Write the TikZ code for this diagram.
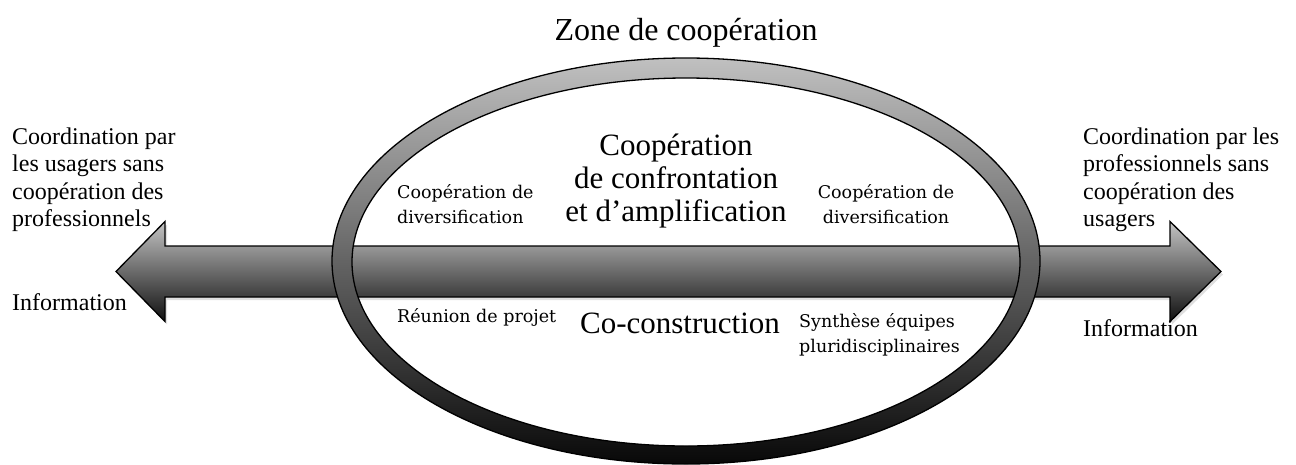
\documentclass[tikz,border=0pt]{standalone}
\usepackage{fontspec}
\setmainfont{Liberation Serif}
\newfontfamily\cambfont{DejaVu Serif}
\usetikzlibrary{shadows}
\definecolor{arrtop}{RGB}{196,196,196}
\definecolor{arrmid}{RGB}{128,128,128}
\definecolor{arrbot}{RGB}{16,16,16}
\definecolor{ringtop}{RGB}{192,192,192}
\definecolor{ringmid}{RGB}{140,140,140}
\definecolor{ringbot}{RGB}{8,8,8}
\begin{document}
\begin{tikzpicture}[x=1pt,y=-1pt,
  side/.style={font=\fontsize{24}{28}\selectfont, inner sep=0pt, anchor=base west},
  titletext/.style={font=\fontsize{32}{38}\selectfont, inner sep=0pt, anchor=base},
  big/.style={font=\fontsize{31}{36}\selectfont, inner sep=0pt, anchor=base},
  small/.style={font=\cambfont\fontsize{17.5}{21}\selectfont, inner sep=0pt, anchor=base west},
  smallc/.style={small, anchor=base},
  outline/.style={draw=black, line width=1.3pt, line join=miter},
]
\useasboundingbox (0,0) rectangle (1296,464);
% double arrow
\coordinate (ltip) at (116,271.5);
\coordinate (rtip) at (1221,271.5);
\shade[outline, top color=arrtop, middle color=arrmid, bottom color=arrbot,
  drop shadow={opacity=0.25, shadow xshift=2pt, shadow yshift=-3pt}]
  (ltip) -- (165,221.5) -- (165,246) -- (1170,246) -- (1170,221.5) -- (rtip)
  -- (1170,321.5) -- (1170,297) -- (165,297) -- (165,321.5) -- cycle;
% ring
\path[even odd rule, top color=ringtop, middle color=ringmid, bottom color=ringbot]
  (686,261) ellipse [x radius=354, y radius=203]
  (686,262) ellipse [x radius=334, y radius=184];
\draw[outline] (686,261) ellipse [x radius=354, y radius=203];
\draw[outline] (686,262) ellipse [x radius=334, y radius=184];
% title
\node[titletext] (title) at (686,40) {Zone de coopération};
% left texts
\node[side] (l1) at (12,144) {Coordination par};
\node[side] (l2) at (12,171.5) {les usagers sans};
\node[side] (l3) at (12,199) {coopération des};
\node[side] (l4) at (12,226.5) {professionnels};
\node[side] (linfo) at (12,310) {Information};
% right texts
\node[side] (r1) at (1083,144) {Coordination par les};
\node[side] (r2) at (1083,171.5) {professionnels sans};
\node[side] (r3) at (1083,199) {coopération des};
\node[side] (r4) at (1083,226.5) {usagers};
\node[side] (rinfo) at (1083,336) {Information};
% central big texts
\node[big] (c1) at (676,155) {Coopération};
\node[big] (c2) at (676,188) {de confrontation};
\node[big] (c3) at (676,221) {et d’amplification};
\node[big] (cc) at (680,333) {Co-construction};
% small texts
\node[small] (sl1) at (397,198) {Coopération de};
\node[small] (sl2) at (397,223) {diversification};
\node[smallc] (sr1) at (886,198) {Coopération de};
\node[smallc] (sr2) at (886,223) {diversification};
\node[small] (reu) at (397,322) {Réunion de projet};
\node[small] (syn1) at (799,327) {Synthèse équipes};
\node[small] (syn2) at (799,352) {pluridisciplinaires};
\end{tikzpicture}
\end{document}
